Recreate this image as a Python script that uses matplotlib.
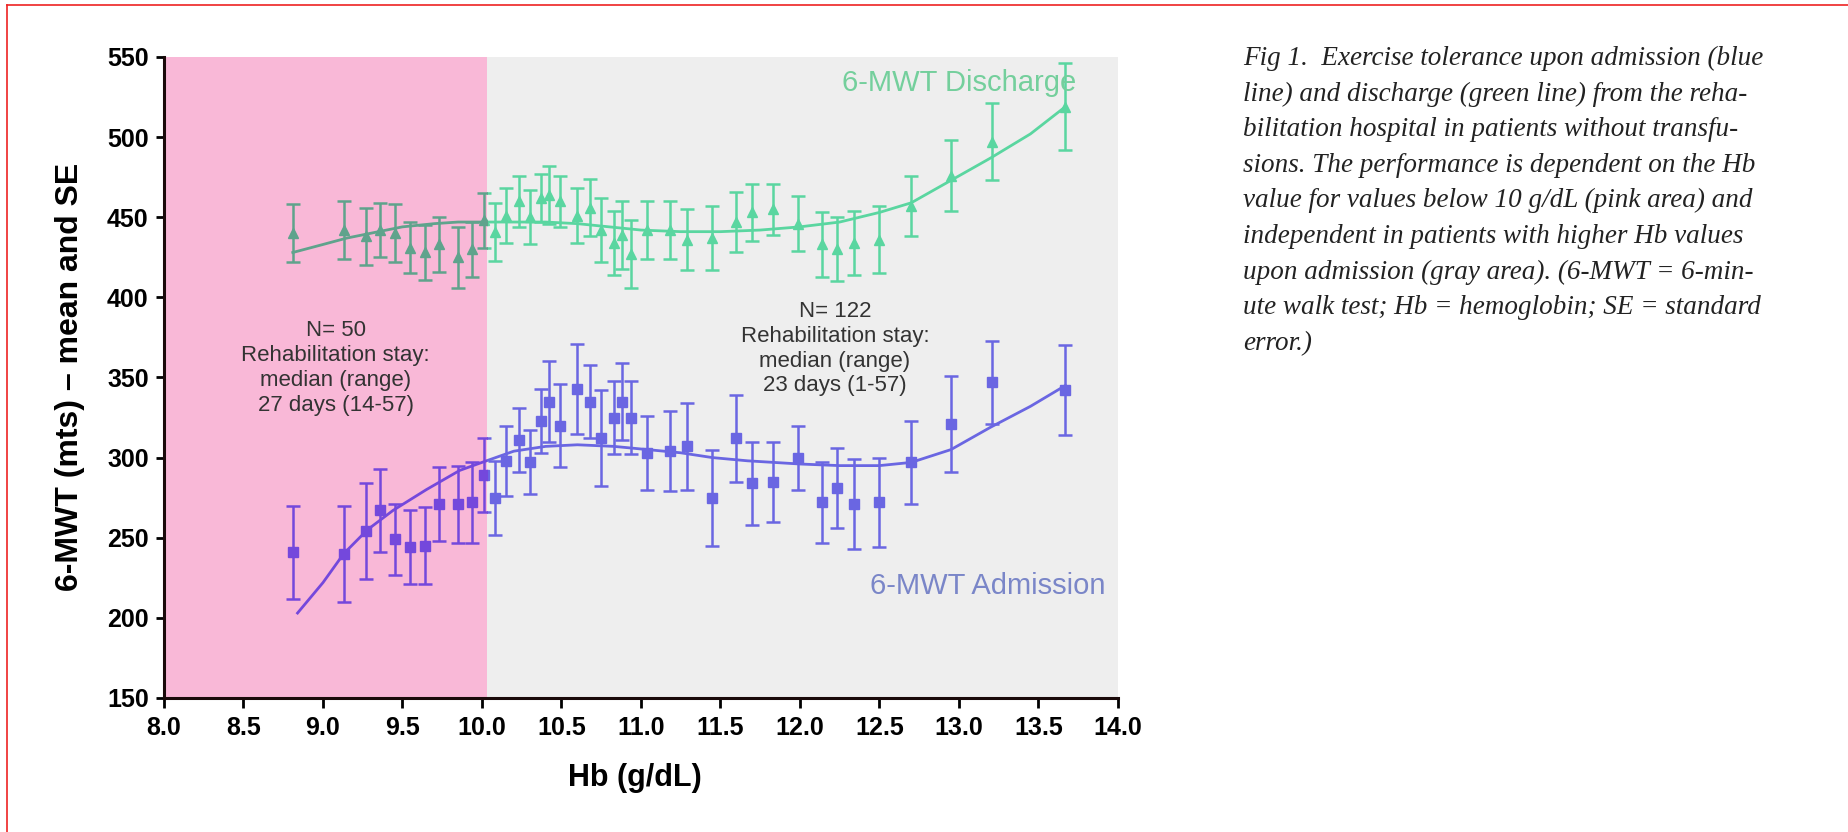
import numpy as np
import matplotlib
matplotlib.use("Agg")
import matplotlib.pyplot as plt
from matplotlib.patches import Rectangle
from matplotlib.lines import Line2D

plt.rcParams['font.family'] = ['Liberation Sans', 'DejaVu Sans']

# Hb values (g/dL) of the binned groups
hb = [8.81, 9.13, 9.27, 9.36, 9.45, 9.55, 9.64, 9.73, 9.85, 9.94,
      10.01, 10.08, 10.15, 10.23, 10.30, 10.37, 10.42, 10.49, 10.60, 10.68,
      10.75, 10.83, 10.88, 10.94, 11.04, 11.18, 11.29, 11.45, 11.60, 11.70,
      11.83, 11.99, 12.14, 12.23, 12.34, 12.50, 12.70, 12.95, 13.21, 13.67]

# 6-MWT at discharge (green) - mean and SE
dis_mean = [440, 442, 438, 442, 440, 431, 428, 433, 425, 430,
            448, 441, 451, 460, 450, 462, 464, 460, 451, 456,
            442, 434, 439, 427, 442, 442, 436, 437, 447, 453,
            455, 446, 433, 430, 434, 436, 457, 476, 497, 519]
dis_se = [18, 18, 18, 17, 18, 16, 17, 17, 19, 17,
          17, 18, 17, 16, 17, 15, 18, 16, 17, 18,
          20, 20, 21, 21, 18, 18, 19, 20, 19, 18,
          16, 17, 20, 20, 20, 21, 19, 22, 24, 27]

# 6-MWT at admission (purple) - mean and SE
adm_mean = [241, 240, 254, 267, 249, 244, 245, 271, 271, 272,
            289, 275, 298, 311, 297, 323, 335, 320, 343, 335,
            312, 325, 335, 325, 303, 304, 307, 275, 312, 284,
            285, 300, 272, 281, 271, 272, 297, 321, 347, 342]
adm_se = [29, 30, 30, 26, 22, 23, 24, 23, 24, 25,
          23, 23, 22, 20, 20, 20, 25, 26, 28, 23,
          30, 23, 24, 23, 23, 25, 27, 30, 27, 26,
          25, 20, 25, 25, 28, 28, 26, 30, 26, 28]

# fitted trend lines
dis_fit_x = [8.81, 9.0, 9.15, 9.3, 9.5, 9.7, 9.85, 10.0, 10.2, 10.4, 10.6, 10.8,
             11.0, 11.25, 11.5, 11.75, 12.0, 12.25, 12.5, 12.7, 12.95, 13.2, 13.45, 13.67]
dis_fit_y = [428, 433, 437, 440, 444, 446, 447, 447, 447, 447, 446, 444,
             442, 441, 441, 442, 444, 447, 453, 459, 473, 487, 502, 519]
adm_fit_x = [8.84, 9.0, 9.13, 9.28, 9.44, 9.65, 9.86, 10.0, 10.2, 10.4, 10.6, 10.83,
             11.04, 11.25, 11.45, 11.67, 12.0, 12.25, 12.5, 12.7, 12.95, 13.2, 13.45, 13.67]
adm_fit_y = [203, 222, 240, 255, 267, 280, 292, 297, 304, 307, 308, 307,
             305, 303, 300, 298, 296, 295, 295, 297, 305, 319, 332, 345]

hb_cut = 10.03

caption = [
    "Fig 1.  Exercise tolerance upon admission (blue",
    "line) and discharge (green line) from the reha-",
    "bilitation hospital in patients without transfu-",
    "sions. The performance is dependent on the Hb",
    "value for values below 10 g/dL (pink area) and",
    "independent in patients with higher Hb values",
    "upon admission (gray area). (6-MWT = 6-min-",
    "ute walk test; Hb = hemoglobin; SE = standard",
    "error.)",
]

fig = plt.figure(figsize=(18.49, 8.32), dpi=100)
ax = fig.add_axes([0.0887, 0.1611, 0.5159, 0.7704])
ax.set_xlim(8, 14)
ax.set_ylim(150, 550)

ax.axvspan(8, hb_cut, color='#f9b8d7', lw=0, zorder=0)
ax.axvspan(hb_cut, 14, color='#eeeeee', lw=0, zorder=0)

pink_clip = Rectangle((7, 0), hb_cut - 7, 1000, transform=ax.transData)
gray_clip = Rectangle((hb_cut, 0), 10, 1000, transform=ax.transData)


def draw(x, y, se, fx, fy, color, marker, ms, clip):
    cont = ax.errorbar(x, y, yerr=se, fmt=marker, color=color, ms=ms,
                       capsize=4.7, elinewidth=1.8, capthick=1.8, zorder=3)
    line, = ax.plot(fx, fy, color=color, lw=2.0, zorder=2)
    for a in [line] + list(cont.get_children()):
        a.set_clip_path(clip)


draw(hb, dis_mean, dis_se, dis_fit_x, dis_fit_y, '#5ad6a0', '^', 7.5, gray_clip)
draw(hb, dis_mean, dis_se, dis_fit_x, dis_fit_y, '#5fa38c', '^', 7.5, pink_clip)
draw(hb, adm_mean, adm_se, adm_fit_x, adm_fit_y, '#6a66e2', 's', 7, gray_clip)
draw(hb, adm_mean, adm_se, adm_fit_x, adm_fit_y, '#7448dc', 's', 7, pink_clip)

ax.text(13.0, 534, "6-MWT Discharge", color='#74cf9c', fontsize=21,
        ha='center', va='center')
ax.text(13.18, 220, "6-MWT Admission", color='#7a86c8', fontsize=21,
        ha='center', va='center')
ax.text(9.08, 356, "N= 50\nRehabilitation stay:\nmedian (range)\n27 days (14-57)",
        color='#333333', fontsize=16, ha='center', va='center', linespacing=1.24)
ax.text(12.22, 368, "N= 122\nRehabilitation stay:\nmedian (range)\n23 days (1-57)",
        color='#333333', fontsize=16, ha='center', va='center', linespacing=1.24)

for s in ['top', 'right']:
    ax.spines[s].set_visible(False)
for s in ['left', 'bottom']:
    ax.spines[s].set_linewidth(2.2)
    ax.spines[s].set_color('#1a0a0a')
ax.set_xticks(np.arange(8, 14.01, 0.5))
ax.set_xticklabels([f"{v:.1f}" for v in np.arange(8, 14.01, 0.5)])
ax.set_yticks(np.arange(150, 551, 50))
ax.tick_params(axis='x', length=7, width=2, pad=6, labelsize=18)
ax.tick_params(axis='y', length=6, width=2, pad=5, labelsize=18)
for lab in ax.get_xticklabels() + ax.get_yticklabels():
    lab.set_fontweight('bold')

fig.text(0.3435, 0.065, "Hb (g/dL)", fontsize=22, fontweight='bold',
         ha='center', va='center')
fig.text(0.0379, 0.547, "6-MWT (mts) \u2013 mean and SE", fontsize=23,
         fontweight='bold', ha='center', va='center', rotation=90)

for i, line in enumerate(caption):
    fig.text(1243 / 1849, 1 - (65 + 35.6 * i) / 832, line, fontsize=19.5,
             family='Liberation Serif', style='italic', color='#222222',
             ha='left', va='baseline')

fig.add_artist(Line2D([7 / 1849, 1], [1 - 5 / 832] * 2, transform=fig.transFigure,
                      color='#ee2222', lw=1.2))
fig.add_artist(Line2D([7 / 1849] * 2, [0, 1 - 5 / 832], transform=fig.transFigure,
                      color='#ee2222', lw=1.2))

fig.savefig("out.png", dpi=100)
